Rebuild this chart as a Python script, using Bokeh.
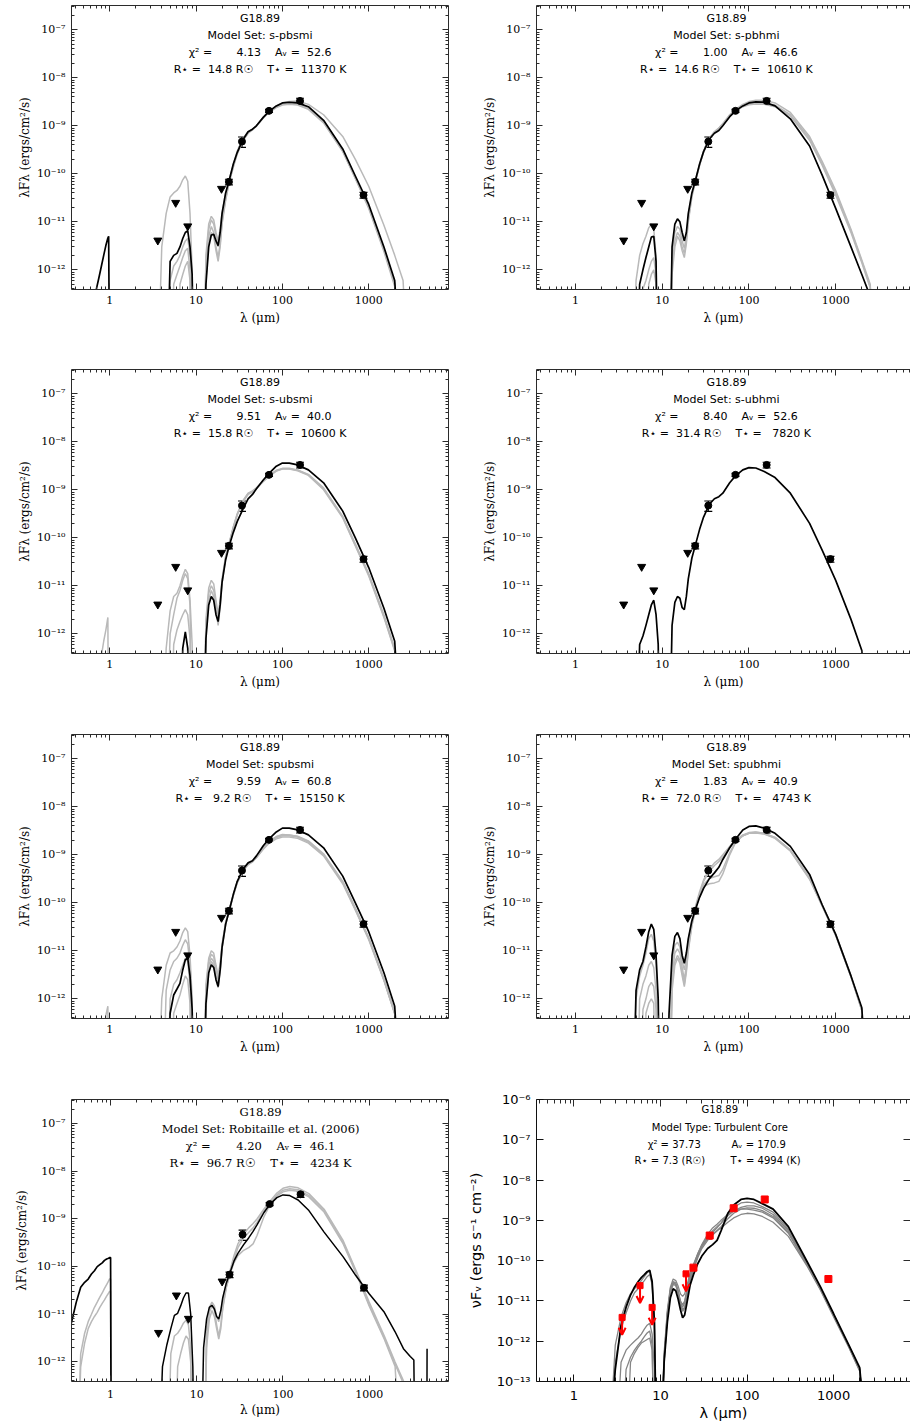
from bokeh.plotting import figure
from bokeh.layouts import gridplot
from bokeh.models import (Range1d, LogAxis, FixedTicker, CustomJSTickFormatter, Label,
                          Whisker, TeeHead, ColumnDataSource, Arrow, OpenHead)
from bokeh.embed import file_html
from bokeh.resources import INLINE

Z = 1e-15  # model flux far below the plotted floor (clipped)

# ---------------- wavelength grids (micron) ----------------
WL_NIR = [0.35, 0.4, 0.45, 0.5, 0.55, 0.6, 0.65, 0.7, 0.75, 0.8, 0.85, 0.9, 0.95, 0.97, 1.0, 1.02]
WL_MIR = [2.5, 3.0, 3.5, 4.0, 4.5, 5.0, 5.5, 6.0, 6.5, 7.0, 7.5, 8.0, 8.5, 9.0, 9.5]
WL_FIR = [10, 11, 12, 13, 14, 15, 16, 17, 18, 19, 20, 22, 24, 27, 30, 35, 40, 45, 50, 60,
          70, 85, 100, 120, 150, 200, 300, 500, 700, 1000, 1500, 2000, 2500, 3000]
WL_TAIL_ROB = [3300, 3450, 4650, 4700]

# ---------------- photometry ----------------
UL_WL = [3.6, 5.8, 8.0, 19.7]
UL_F = [4.1e-12, 2.5e-11, 8.1e-12, 4.9e-11]
DET_WL = [24, 34, 70, 160, 870]
DET_F = [6.8e-11, 4.7e-10, 2.05e-9, 3.3e-9, 3.6e-11]
DET_ERR = [9e-12, 1.15e-10, 1.5e-10, 4.5e-10, 5e-12]

IDL_UL_WL = [3.6, 5.8, 8.0, 19.7]
IDL_UL_F = [3.9e-12, 2.4e-11, 6.9e-12, 4.7e-11]
IDL_DET_WL = [24, 37, 70, 160, 870]
IDL_DET_F = [6.7e-11, 4.2e-10, 2.0e-9, 3.3e-9, 3.5e-11]
IDL_DET_ERR = [6e-12, 8e-11, 1.2e-10, 3e-10, 3e-12]

# ---------------- fit parameters ----------------
SOURCE = "G18.89"
MODEL_SETS = ["s-pbsmi", "s-pbhmi", "s-ubsmi", "s-ubhmi", "spubsmi", "spubhmi", "Robitaille et al. (2006)"]
CHI2 = [4.13, 1.00, 9.51, 8.40, 9.59, 1.83, 4.20]
AV = [52.6, 46.6, 40.0, 52.6, 60.8, 40.9, 46.1]
RSTAR = [14.8, 14.6, 15.8, 31.4, 9.2, 72.0, 96.7]
TSTAR = [11370, 10610, 10600, 7820, 15150, 4743, 4234]
IDL_MODEL = "Turbulent Core"
IDL_CHI2 = 37.73
IDL_AV = 170.9
IDL_RSTAR = 7.3
IDL_TSTAR = 4994

# ---------------- model SEDs: (MIR values on WL_MIR, FIR values on WL_FIR) ----------------
# Panel 1: s-pbsmi
P1_BLACK_NIR = [Z, Z, Z, Z, Z, Z, Z, 4e-13, 7e-13, 1.2e-12, 2e-12, 3.2e-12, 4.6e-12, 5e-12, Z, Z]
P1_BLACK = ([Z, Z, Z, Z, Z, 1.5e-12, 2.0e-12, 2.2e-12, 3.0e-12, 4.5e-12, 6.0e-12, 6.5e-12, 3.0e-12, 8e-13, Z],
            [Z, Z, Z, 5e-13, 3e-12, 5.3e-12, 5.5e-12, 4e-12, 3.2e-12, 6e-12, 1.5e-11, 4e-11, 7e-11, 1.6e-10,
             2.8e-10, 5.2e-10, 7.5e-10, 8.5e-10, 1.0e-9, 1.5e-9, 2.0e-9, 2.6e-9, 3.0e-9, 3.1e-9, 3.0e-9,
             2.5e-9, 1.3e-9, 3.3e-10, 9e-11, 2.3e-11, 3e-12, 6e-13, Z, Z])
P1_GREYS = [
    ([Z, Z, Z, 3e-12, 1.5e-11, 3.3e-11, 4e-11, 4.5e-11, 5.5e-11, 7.5e-11, 9e-11, 7e-11, 1.5e-11, 1e-12, Z],
     [Z, Z, Z, 2e-12, 9e-12, 1.3e-11, 1.1e-11, 6e-12, 4e-12, 7e-12, 1.6e-11, 4e-11, 7e-11, 1.6e-10, 3e-10,
      5.5e-10, 7.5e-10, 8.5e-10, 1.0e-9, 1.5e-9, 2.0e-9, 2.6e-9, 3.0e-9, 3.2e-9, 3.3e-9, 2.8e-9, 1.7e-9,
      6e-10, 2e-10, 5.5e-11, 8.5e-12, 2e-12, 6e-13, Z]),
    ([Z, Z, Z, Z, Z, 6e-13, 1.2e-12, 1.5e-12, 2e-12, 3e-12, 4e-12, 4.5e-12, 2e-12, 5e-13, Z],
     [Z, Z, Z, 1.5e-12, 7e-12, 1.1e-11, 9e-12, 5e-12, 3e-12, 5e-12, 1.3e-11, 3.6e-11, 6.8e-11, 1.5e-10,
      2.8e-10, 5e-10, 7e-10, 8.5e-10, 1e-9, 1.5e-9, 1.95e-9, 2.5e-9, 2.8e-9, 2.9e-9, 2.8e-9, 2.3e-9,
      1.2e-9, 3e-10, 8e-11, 2e-11, 2.6e-12, 5e-13, Z, Z]),
    ([Z, Z, Z, Z, Z, Z, 5e-13, 8e-13, 1.2e-12, 1.8e-12, 2.5e-12, 2.8e-12, 1e-12, Z, Z],
     [Z, Z, Z, 8e-13, 5e-12, 8e-12, 6e-12, 3e-12, 1.8e-12, 3.5e-12, 1e-11, 3e-11, 6.5e-11, 1.4e-10,
      2.6e-10, 5e-10, 7e-10, 8.2e-10, 9.8e-10, 1.45e-9, 1.9e-9, 2.4e-9, 2.7e-9, 2.8e-9, 2.7e-9, 2.2e-9,
      1.15e-9, 2.9e-10, 8e-11, 1.9e-11, 2.4e-12, 4.5e-13, Z, Z]),
    ([Z, Z, Z, Z, Z, Z, Z, Z, 5e-13, 8e-13, 1.2e-12, 1.5e-12, 6e-13, Z, Z],
     [Z, Z, Z, 6e-13, 4e-12, 6e-12, 5e-12, 2.5e-12, 1.5e-12, 3e-12, 9e-12, 2.8e-11, 6.2e-11, 1.4e-10,
      2.7e-10, 5.1e-10, 7.2e-10, 8.4e-10, 1e-9, 1.5e-9, 1.95e-9, 2.5e-9, 2.8e-9, 2.95e-9, 2.85e-9, 2.4e-9,
      1.25e-9, 3.1e-10, 8.5e-11, 2.1e-11, 2.7e-12, 5.2e-13, Z, Z]),
]

# Panel 2: s-pbhmi
P2_BLACK = ([Z, Z, Z, Z, Z, Z, 5e-13, 1e-12, 1.8e-12, 3e-12, 4.8e-12, 5e-12, 1.5e-12, Z, Z],
            [Z, Z, Z, 3e-12, 9e-12, 1.15e-11, 1e-11, 6e-12, 4e-12, 6e-12, 1.5e-11, 4e-11, 7e-11, 1.6e-10,
             2.9e-10, 5.3e-10, 7e-10, 8e-10, 1e-9, 1.55e-9, 2.05e-9, 2.6e-9, 3e-9, 3.15e-9, 3.1e-9, 2.6e-9,
             1.4e-9, 3.8e-10, 9.3e-11, 1.9e-11, 3e-12, 8e-13, 2.8e-13, Z])
P2_GREYS = [
    ([Z, Z, Z, Z, Z, 6e-13, 2e-12, 3.5e-12, 5e-12, 7.5e-12, 9e-12, 7e-12, 2e-12, Z, Z],
     [Z, Z, Z, 2e-12, 6e-12, 8e-12, 7e-12, 4e-12, 2.8e-12, 5e-12, 1.3e-11, 3.8e-11, 7e-11, 1.6e-10, 3e-10,
      5.6e-10, 7.5e-10, 9e-10, 1.1e-9, 1.7e-9, 2.2e-9, 2.8e-9, 3.2e-9, 3.4e-9, 3.4e-9, 3e-9, 1.9e-9,
      6e-10, 1.8e-10, 4.5e-11, 7e-12, 1.6e-12, 5e-13, Z]),
    ([Z, Z, Z, Z, Z, Z, Z, 4e-13, 6e-13, 1e-12, 1.5e-12, 1.8e-12, 8e-13, Z, Z],
     [Z, Z, Z, 1.2e-12, 4e-12, 6e-12, 5e-12, 3e-12, 2.2e-12, 4e-12, 1.1e-11, 3.5e-11, 6.8e-11, 1.5e-10,
      2.9e-10, 5.4e-10, 7.5e-10, 9e-10, 1.1e-9, 1.6e-9, 2.1e-9, 2.6e-9, 2.9e-9, 3e-9, 3e-9, 2.7e-9, 1.7e-9,
      5.5e-10, 1.6e-10, 4e-11, 6.5e-12, 1.5e-12, 4.5e-13, Z]),
    ([Z, Z, Z, Z, Z, Z, Z, Z, Z, 5e-13, 8e-13, 1e-12, 5e-13, Z, Z],
     [Z, Z, Z, 8e-13, 3e-12, 5e-12, 4e-12, 2.5e-12, 1.8e-12, 3.5e-12, 1e-11, 3.3e-11, 6.5e-11, 1.5e-10,
      2.8e-10, 5.2e-10, 7.3e-10, 8.8e-10, 1.05e-9, 1.55e-9, 2e-9, 2.5e-9, 2.75e-9, 2.85e-9, 2.8e-9, 2.5e-9,
      1.6e-9, 5e-10, 1.5e-10, 3.6e-11, 6e-12, 1.4e-12, 4.2e-13, Z]),
]

# Panel 3: s-ubsmi
P3_BLACK = ([Z, Z, Z, Z, Z, Z, Z, Z, Z, 5e-13, 1.1e-12, 5e-13, Z, Z, Z],
            [Z, Z, Z, 8e-13, 4e-12, 6e-12, 5e-12, 2.5e-12, 1.8e-12, 4e-12, 1.2e-11, 3.5e-11, 6.5e-11, 1.3e-10,
             2.2e-10, 4e-10, 6.5e-10, 8e-10, 1.05e-9, 1.6e-9, 2.2e-9, 3.1e-9, 3.6e-9, 3.6e-9, 3.3e-9, 2.6e-9,
             1.4e-9, 3.6e-10, 1e-10, 2.4e-11, 3.4e-12, 7e-13, Z, Z])
P3_GREY_NIR = [Z, Z, Z, Z, Z, Z, Z, Z, Z, 3.5e-13, 7e-13, 1.2e-12, 2.2e-12, Z, Z, Z]
P3_GREYS = [
    ([Z, Z, Z, Z, 5e-13, 3e-12, 6e-12, 7e-12, 1e-11, 1.6e-11, 2.2e-11, 1.8e-11, 5e-12, 6e-13, Z],
     [Z, Z, Z, 2e-12, 9e-12, 1.3e-11, 1.1e-11, 5e-12, 2.5e-12, 5e-12, 1.4e-11, 4.2e-11, 7.5e-11, 1.7e-10,
      3.2e-10, 6e-10, 8.5e-10, 9.5e-10, 1.1e-9, 1.55e-9, 2e-9, 2.55e-9, 2.8e-9, 2.8e-9, 2.6e-9, 2.1e-9,
      1.1e-9, 2.8e-10, 7.5e-11, 1.8e-11, 2.5e-12, 5e-13, Z, Z]),
    ([Z, Z, Z, Z, Z, 1e-12, 2.5e-12, 5.5e-12, 8e-12, 1.3e-11, 1.8e-11, 1.4e-11, 4e-12, Z, Z],
     [Z, Z, Z, 1.5e-12, 7e-12, 1e-11, 8e-12, 4e-12, 2e-12, 4.5e-12, 1.3e-11, 4e-11, 7.2e-11, 1.65e-10,
      3.1e-10, 5.8e-10, 8.3e-10, 9.3e-10, 1.08e-9, 1.5e-9, 1.95e-9, 2.5e-9, 2.75e-9, 2.75e-9, 2.55e-9,
      2.05e-9, 1.05e-9, 2.7e-10, 7e-11, 1.7e-11, 2.3e-12, 4.6e-13, Z, Z]),
    ([Z, Z, Z, Z, Z, Z, 6e-13, 1.2e-12, 1.8e-12, 2.5e-12, 3.2e-12, 2.5e-12, 8e-13, Z, Z],
     [Z, Z, Z, 1e-12, 5e-12, 8e-12, 6e-12, 3e-12, 1.5e-12, 3.5e-12, 1.1e-11, 3.8e-11, 7e-11, 1.6e-10,
      3e-10, 5.6e-10, 8e-10, 9e-10, 1.05e-9, 1.5e-9, 1.9e-9, 2.45e-9, 2.7e-9, 2.7e-9, 2.5e-9, 2e-9, 1e-9,
      2.6e-10, 6.8e-11, 1.6e-11, 2.2e-12, 4.4e-13, Z, Z]),
]

# Panel 4: s-ubhmi
P4_BLACK = ([Z, Z, Z, Z, Z, Z, 6e-13, 9e-13, 1.5e-12, 2.5e-12, 4e-12, 5e-12, 2.5e-12, 6e-13, Z],
            [Z, Z, Z, 1.5e-12, 4.5e-12, 6e-12, 5.5e-12, 3.5e-12, 3.2e-12, 6e-12, 1.4e-11, 3.8e-11, 6.8e-11,
             1.5e-10, 2.7e-10, 5e-10, 6.5e-10, 7.2e-10, 8.5e-10, 1.4e-9, 1.95e-9, 2.6e-9, 2.9e-9, 2.85e-9,
             2.4e-9, 1.8e-9, 8.5e-10, 2e-10, 5.5e-11, 1.3e-11, 2e-12, 4.5e-13, Z, Z])
P4_GREYS = []

# Panel 5: spubsmi
P5_BLACK = ([Z, Z, Z, Z, Z, 5e-13, 1.2e-12, 1.6e-12, 2.1e-12, 4e-12, 6.5e-12, 7e-12, 3e-12, 6e-13, Z],
            [Z, Z, Z, 8e-13, 3.5e-12, 5.1e-12, 4.5e-12, 2.5e-12, 1.8e-12, 4e-12, 1.2e-11, 3.6e-11, 6.5e-11,
             1.5e-10, 2.8e-10, 5e-10, 6.8e-10, 7.5e-10, 9.5e-10, 1.55e-9, 2.15e-9, 3e-9, 3.6e-9, 3.6e-9,
             3.3e-9, 2.6e-9, 1.4e-9, 3.6e-10, 1e-10, 2.5e-11, 3.5e-12, 7e-13, Z, Z])
P5_GREY_NIR = [Z, Z, Z, Z, Z, Z, Z, Z, Z, Z, Z, 4.5e-13, 7e-13, Z, Z, Z]
P5_GREYS = [
    ([Z, Z, Z, 1e-12, 5e-12, 9e-12, 1e-11, 1.2e-11, 1.6e-11, 2.4e-11, 3e-11, 2.5e-11, 8e-12, 1e-12, Z],
     [Z, Z, Z, 2e-12, 7e-12, 1e-11, 9e-12, 5e-12, 3e-12, 5.5e-12, 1.4e-11, 4e-11, 7e-11, 1.5e-10, 2.8e-10,
      4.8e-10, 6.5e-10, 7.5e-10, 9e-10, 1.4e-9, 1.9e-9, 2.4e-9, 2.65e-9, 2.6e-9, 2.4e-9, 1.9e-9, 1e-9,
      2.7e-10, 7.5e-11, 1.8e-11, 2.5e-12, 5e-13, Z, Z]),
    ([Z, Z, Z, Z, 1.5e-12, 4e-12, 6e-12, 7e-12, 9e-12, 1.3e-11, 1.7e-11, 1.4e-11, 5e-12, 7e-13, Z],
     [Z, Z, Z, 1.5e-12, 6e-12, 8.5e-12, 7.5e-12, 4e-12, 2.5e-12, 5e-12, 1.3e-11, 3.8e-11, 6.8e-11, 1.45e-10,
      2.7e-10, 4.7e-10, 6.3e-10, 7.2e-10, 8.7e-10, 1.3e-9, 1.75e-9, 2.15e-9, 2.35e-9, 2.35e-9, 2.2e-9,
      1.75e-9, 9.5e-10, 2.5e-10, 7e-11, 1.7e-11, 2.4e-12, 4.8e-13, Z, Z]),
    ([Z, Z, Z, Z, Z, 1e-12, 2e-12, 2.5e-12, 3.5e-12, 5e-12, 7e-12, 6e-12, 2e-12, Z, Z],
     [Z, Z, Z, 1e-12, 5e-12, 7e-12, 6e-12, 3e-12, 2e-12, 4e-12, 1.2e-11, 3.6e-11, 6.6e-11, 1.45e-10, 2.7e-10,
      4.8e-10, 6.5e-10, 7.4e-10, 9e-10, 1.4e-9, 1.85e-9, 2.35e-9, 2.6e-9, 2.6e-9, 2.45e-9, 1.95e-9, 1.05e-9,
      2.8e-10, 7.8e-11, 1.9e-11, 2.6e-12, 5.2e-13, Z, Z]),
    ([Z, Z, Z, Z, Z, Z, 5e-13, 8e-13, 1.2e-12, 2e-12, 3e-12, 2.5e-12, 8e-13, Z, Z],
     [Z, Z, Z, 6e-13, 4e-12, 6e-12, 5e-12, 2.6e-12, 1.7e-12, 3.6e-12, 1.1e-11, 3.5e-11, 6.5e-11, 1.4e-10,
      2.6e-10, 4.6e-10, 6.2e-10, 7.1e-10, 8.8e-10, 1.35e-9, 1.8e-9, 2.3e-9, 2.5e-9, 2.5e-9, 2.35e-9, 1.85e-9,
      1e-9, 2.65e-10, 7.3e-11, 1.8e-11, 2.5e-12, 5e-13, Z, Z]),
]

# Panel 6: spubhmi
P6_BLACK = ([Z, Z, Z, Z, Z, 1.5e-12, 4e-12, 6e-12, 1.2e-11, 2.5e-11, 3.6e-11, 2.8e-11, 8e-12, 1e-12, Z],
            [Z, Z, 5e-13, 8e-12, 2e-11, 2.4e-11, 1.8e-11, 8e-12, 5.5e-12, 9e-12, 1.8e-11, 4.2e-11, 7e-11,
             1.3e-10, 2e-10, 3.2e-10, 4.2e-10, 5.5e-10, 8e-10, 1.4e-9, 2.1e-9, 3.3e-9, 3.9e-9, 4e-9, 3.6e-9,
             2.8e-9, 1.5e-9, 3.9e-10, 9e-11, 2.2e-11, 3e-12, 6.5e-13, Z, Z])
P6_GREYS = [
    ([Z, Z, Z, Z, Z, 1e-12, 3e-12, 5e-12, 9e-12, 1.8e-11, 2.2e-11, 1.6e-11, 5e-12, 7e-13, Z],
     [Z, Z, Z, 5e-12, 1.3e-11, 1.5e-11, 1.2e-11, 6e-12, 4e-12, 7e-12, 1.6e-11, 4.5e-11, 8e-11, 1.7e-10, 3e-10,
      5e-10, 6.8e-10, 8e-10, 1e-9, 1.5e-9, 2e-9, 2.6e-9, 2.9e-9, 3e-9, 2.8e-9, 2.3e-9, 1.25e-9, 3.3e-10,
      9e-11, 2.2e-11, 3e-12, 6e-13, Z, Z]),
    ([Z, Z, Z, Z, Z, Z, 1e-12, 2e-12, 3e-12, 5e-12, 6e-12, 4.5e-12, 1.5e-12, Z, Z],
     [Z, Z, Z, 3e-12, 9e-12, 1.1e-11, 9e-12, 4.5e-12, 2.5e-12, 5e-12, 1.3e-11, 4e-11, 7.5e-11, 1.5e-10,
      2.2e-10, 2.5e-10, 2.6e-10, 2.8e-10, 4e-10, 1e-9, 1.8e-9, 2.5e-9, 2.85e-9, 2.95e-9, 2.8e-9, 2.3e-9,
      1.25e-9, 3.3e-10, 8.8e-11, 2.15e-11, 2.9e-12, 5.8e-13, Z, Z]),
    ([Z, Z, Z, Z, Z, Z, Z, 6e-13, 1e-12, 1.8e-12, 2.2e-12, 1.8e-12, 6e-13, Z, Z],
     [Z, Z, Z, 2e-12, 6e-12, 8e-12, 6.5e-12, 3.5e-12, 2e-12, 4e-12, 1.1e-11, 3.5e-11, 7e-11, 1.5e-10, 2.8e-10,
      4.5e-10, 6e-10, 7.2e-10, 9e-10, 1.4e-9, 1.9e-9, 2.5e-9, 2.8e-9, 2.85e-9, 2.7e-9, 2.2e-9, 1.2e-9,
      3.1e-10, 8.5e-11, 2.1e-11, 2.9e-12, 5.8e-13, Z, Z]),
    ([Z, Z, Z, Z, Z, Z, Z, Z, 5e-13, 8e-13, 1e-12, 8e-13, Z, Z, Z],
     [Z, Z, Z, 1.5e-12, 5e-12, 7e-12, 5.5e-12, 3e-12, 1.8e-12, 3.6e-12, 1e-11, 3.3e-11, 6.6e-11, 1.4e-10,
      2.4e-10, 3.2e-10, 3.5e-10, 3.7e-10, 5e-10, 1.1e-9, 1.85e-9, 2.5e-9, 2.8e-9, 2.9e-9, 2.75e-9, 2.25e-9,
      1.22e-9, 3.2e-10, 8.6e-11, 2.1e-11, 2.9e-12, 5.8e-13, Z, Z]),
]

# Panel 7: Robitaille et al. (2006)
P7_BLACK_NIR = [6.5e-12, 1.8e-11, 3.7e-11, 4.7e-11, 5.5e-11, 7e-11, 8.2e-11, 1e-10, 1.1e-10, 1.2e-10,
                1.35e-10, 1.45e-10, 1.5e-10, 1.55e-10, 1.55e-10, Z]
P7_GREYS_NIR = [
    [Z, Z, 1.5e-12, 4e-12, 7e-12, 1e-11, 1.4e-11, 1.8e-11, 2.3e-11, 2.8e-11, 3.5e-11, 4.2e-11, 5e-11, 5.5e-11, 5.5e-11, Z],
    [Z, Z, 8e-13, 2.5e-12, 5e-12, 7e-12, 9e-12, 1.1e-11, 1.4e-11, 1.7e-11, 2e-11, 2.4e-11, 2.8e-11, 3e-11, 3e-11, Z],
]
P7_BLACK = ([Z, Z, Z, 8e-13, 2.3e-12, 5e-12, 9.5e-12, 1.05e-11, 1.5e-11, 2.2e-11, 2.8e-11, 2.8e-11, 1e-11, 8e-13, Z],
            [Z, Z, 2e-12, 8e-12, 1.4e-11, 1.55e-11, 1.3e-11, 9e-12, 8e-12, 1.2e-11, 2.2e-11, 4.5e-11, 7e-11,
             1.3e-10, 1.9e-10, 2.9e-10, 4e-10, 5.5e-10, 7.5e-10, 1.35e-9, 2e-9, 2.8e-9, 3.2e-9, 3.1e-9, 2.5e-9,
             1.5e-9, 5.3e-10, 1.6e-10, 6.5e-11, 2.7e-11, 1.1e-11, 4.3e-12, 1.9e-12, 1.3e-12])
P7_BLACK_TAIL = [1.1e-12, Z, Z, 1.9e-12]
P7_GREYS = [
    ([Z, Z, Z, Z, Z, 1.5e-12, 3.5e-12, 4e-12, 5e-12, 6.5e-12, 7.5e-12, 6e-12, 2e-12, Z, Z],
     [Z, Z, Z, 5e-12, 1.4e-11, 1.8e-11, 1.5e-11, 9e-12, 7e-12, 1.1e-11, 2e-11, 4.5e-11, 7.5e-11, 1.7e-10, 3e-10,
      4.8e-10, 6.5e-10, 8e-10, 1e-9, 1.6e-9, 2.3e-9, 3.5e-9, 4.4e-9, 4.8e-9, 4.5e-9, 3.4e-9, 1.6e-9, 3.5e-10,
      8.5e-11, 1.8e-11, 3.5e-12, 1e-12, 4e-13, Z]),
    ([Z, Z, Z, Z, Z, Z, Z, 8e-13, 1.5e-12, 2.5e-12, 3.5e-12, 3e-12, 1e-12, Z, Z],
     [Z, Z, Z, 3e-12, 1.1e-11, 1.5e-11, 1.2e-11, 6e-12, 3.5e-12, 6e-12, 1.4e-11, 3.8e-11, 6.5e-11, 1.2e-10,
      1.7e-10, 2.2e-10, 2.5e-10, 3e-10, 4.5e-10, 1.1e-9, 1.9e-9, 3e-9, 3.7e-9, 4e-9, 3.8e-9, 2.9e-9, 1.4e-9,
      3e-10, 7.5e-11, 1.5e-11, 3e-12, 8e-13, Z, Z]),
    ([Z, Z, Z, Z, Z, Z, Z, Z, Z, Z, Z, Z, Z, Z, Z],
     [Z, Z, Z, 2e-12, 8e-12, 1.2e-11, 9e-12, 5e-12, 3e-12, 5e-12, 1.3e-11, 3.6e-11, 6.5e-11, 1.4e-10, 2.5e-10,
      4e-10, 5.2e-10, 6.5e-10, 8.5e-10, 1.45e-9, 2.1e-9, 3.2e-9, 4e-9, 4.3e-9, 4.1e-9, 3.1e-9, 1.5e-9,
      3.2e-10, 8e-11, 1.6e-11, 3.2e-12, 9e-13, 3.5e-13, Z]),
]

# Panel 8: turbulent core (IDL style)
P8_BLACK = ([Z, 2e-13, 2.5e-12, 7e-12, 1.4e-11, 2.2e-11, 3e-11, 3.8e-11, 4.5e-11, 5.3e-11, 5.8e-11, 3e-11, 3e-12, Z, Z],
            [Z, 3e-13, 3e-12, 1.2e-11, 2e-11, 1.8e-11, 1.1e-11, 6e-12, 3.8e-12, 4.5e-12, 8e-12, 2.5e-11, 4.5e-11,
             8.5e-11, 1.3e-10, 2e-10, 2.5e-10, 3.2e-10, 5.5e-10, 1.5e-9, 2.4e-9, 3.3e-9, 3.5e-9, 3.3e-9, 2.6e-9,
             1.9e-9, 7e-10, 9e-11, 2.3e-11, 4.8e-12, 8e-13, 2.2e-13, Z, Z])
P8_GREYS = [
    ([Z, 8e-13, 4e-12, 9e-12, 1.5e-11, 2e-11, 2.5e-11, 3.2e-11, 4e-11, 5e-11, 5.5e-11, 3e-11, 3e-12, Z, Z],
     [Z, 5e-13, 6e-12, 2.2e-11, 3.5e-11, 3.2e-11, 2.3e-11, 1.5e-11, 1.3e-11, 1.5e-11, 2.2e-11, 5e-11, 8e-11,
      1.5e-10, 2.4e-10, 4e-10, 5.5e-10, 7e-10, 8.5e-10, 1.3e-9, 1.7e-9, 2.1e-9, 2.3e-9, 2.3e-9, 2e-9, 1.4e-9,
      5.5e-10, 8e-11, 2.1e-11, 4.5e-12, 7.5e-13, 2e-13, Z, Z]),
    ([Z, Z, 3e-13, 6e-13, 8e-13, 1e-12, 1.2e-12, 1.5e-12, 2e-12, 2.5e-12, 2.8e-12, 1.5e-12, 2e-13, Z, Z],
     [Z, 4e-13, 5e-12, 2e-11, 3e-11, 2.8e-11, 1.8e-11, 9e-12, 6e-12, 7e-12, 1.2e-11, 3.5e-11, 6.5e-11, 1.3e-10,
      2.2e-10, 3.5e-10, 4.5e-10, 5.5e-10, 6.5e-10, 9e-10, 1.15e-9, 1.4e-9, 1.5e-9, 1.45e-9, 1.25e-9, 9e-10,
      4e-10, 7e-11, 1.9e-11, 4e-12, 7e-13, 1.8e-13, Z, Z]),
    ([Z, Z, Z, 2e-13, 4e-13, 6e-13, 8e-13, 1e-12, 1.3e-12, 1.6e-12, 1.8e-12, 8e-13, Z, Z, Z],
     [Z, 3e-13, 4e-12, 1.6e-11, 2.6e-11, 2.4e-11, 1.5e-11, 8e-12, 5.5e-12, 6.5e-12, 1.1e-11, 3.2e-11, 6e-11,
      1.2e-10, 2e-10, 3.2e-10, 4.3e-10, 5.5e-10, 7e-10, 1.1e-9, 1.5e-9, 1.9e-9, 2.05e-9, 2e-9, 1.75e-9, 1.25e-9,
      5e-10, 7.5e-11, 2e-11, 4.3e-12, 7.2e-13, 1.9e-13, Z, Z]),
    ([Z, 3e-13, 2e-12, 5e-12, 1e-11, 1.6e-11, 2e-11, 2.6e-11, 3.2e-11, 4e-11, 4.5e-11, 2.5e-11, 2e-12, Z, Z],
     [Z, 4e-13, 5e-12, 1.8e-11, 2.8e-11, 2.6e-11, 1.6e-11, 9e-12, 7e-12, 9e-12, 1.6e-11, 4e-11, 7e-11, 1.4e-10,
      2.3e-10, 3.8e-10, 5e-10, 6.5e-10, 8.5e-10, 1.5e-9, 2.1e-9, 2.7e-9, 2.85e-9, 2.7e-9, 2.2e-9, 1.6e-9,
      6e-10, 8.5e-11, 2.2e-11, 4.6e-12, 7.8e-13, 2.1e-13, Z, Z]),
    ([Z, Z, Z, Z, 3e-13, 5e-13, 7e-13, 9e-13, 1e-12, 1.1e-12, 1.2e-12, 6e-13, Z, Z, Z],
     [Z, 3e-13, 4.5e-12, 1.8e-11, 2.8e-11, 2.6e-11, 1.7e-11, 1e-11, 8e-12, 1e-11, 1.7e-11, 4.5e-11, 7.5e-11,
      1.5e-10, 2.5e-10, 4.5e-10, 6.5e-10, 8e-10, 1e-9, 1.4e-9, 1.75e-9, 1.9e-9, 1.9e-9, 1.8e-9, 1.6e-9,
      1.15e-9, 4.8e-10, 7.5e-11, 2e-11, 4.4e-12, 7.4e-13, 1.9e-13, Z, Z]),
]

# ---------------- styling ----------------
GREY = "#b9b9b9"
IDL_GREY = "#858585"
FRAME = "#2b2b2b"
NB = "\u00a0"

XR_L = (0.36, 8400.0)
XR_L4 = (0.352, 8330.0)
XR_R = (0.356, 7280.0)
XR_R4 = (0.369, 7730.0)
YR = (3.89e-13, 3.21e-7)
YR_IDL = (1e-13, 1e-6)
Y_TOP_LOG = -6.4935
PX_PER_DEC = 48.0
TEXT_OFFSETS = [13, 30, 47, 64]
X_MID = 55.0

X_MAJOR = [1, 10, 100, 1000]
X_MINOR = [m * 10.0 ** k for k in range(-1, 4) for m in range(2, 10)]
Y_MAJOR = [10.0 ** k for k in range(-13, -5)]
Y_MINOR = [m * 10.0 ** k for k in range(-14, -6) for m in range(2, 10)]

SUP_CODE = """
const m = {"-": "\u207b", "0": "\u2070", "1": "\u00b9", "2": "\u00b2", "3": "\u00b3",
           "4": "\u2074", "5": "\u2075", "6": "\u2076", "7": "\u2077", "8": "\u2078", "9": "\u2079"};
const e = Math.round(Math.log10(tick));
return "10" + String(e).split("").map(c => m[c]).join("");
"""
INT_CODE = "return Math.round(tick).toString();"
BLANK_CODE = "return '';"


def check(arr, n, name):
    if len(arr) != n:
        raise ValueError(f"{name}: expected {n} values, got {len(arr)}")


def style_ticks(ax, major, minor, color=FRAME):
    ax.major_tick_in = major
    ax.major_tick_out = 0
    ax.minor_tick_in = minor
    ax.minor_tick_out = 0
    ax.axis_line_color = color
    ax.major_tick_line_color = color
    ax.minor_tick_line_color = color
    ax.axis_line_width = 1
    ax.major_tick_line_width = 1
    ax.minor_tick_line_width = 1


def blank_axis(p, place, ticker, major, minor, line=True):
    ax = LogAxis(ticker=ticker, formatter=CustomJSTickFormatter(code=BLANK_CODE),
                 major_label_text_font_size="0px", major_label_standoff=0)
    style_ticks(ax, major, minor)
    if not line:
        ax.axis_line_color = None
    p.add_layout(ax, place)


def base_figure(w, h, mb, xr, yr):
    p = figure(width=w, height=h, x_axis_type="log", y_axis_type="log",
               x_range=Range1d(*xr), y_range=Range1d(*yr),
               output_backend="svg", toolbar_location=None,
               min_border_left=mb[0], min_border_right=mb[1],
               min_border_top=mb[2], min_border_bottom=mb[3])
    p.xgrid.visible = False
    p.ygrid.visible = False
    p.outline_line_color = None
    p.background_fill_color = "white"
    p.border_fill_color = "white"
    return p


def ytext(off):
    return 10 ** (Y_TOP_LOG - off / PX_PER_DEC)


def sed_panel(i, w, h, mb, xr, yr, right_col, black, greys, black_nir=None, greys_nir=(),
              black_tail=None, serif_text=False, xstand=(6, 4), ylabel_standoff=2):
    p = base_figure(w, h, mb, xr, yr)
    xt = FixedTicker(ticks=X_MAJOR, minor_ticks=X_MINOR)
    yt = FixedTicker(ticks=Y_MAJOR, minor_ticks=Y_MINOR)

    xa = p.xaxis[0]
    xa.ticker = xt
    xa.formatter = CustomJSTickFormatter(code=INT_CODE)
    xa.axis_label = "λ (μm)"
    ya = p.yaxis[0]
    ya.ticker = yt
    ya.formatter = CustomJSTickFormatter(code=SUP_CODE)
    ya.axis_label = "λFλ (ergs/cm²/s)"
    for ax in (xa, ya):
        style_ticks(ax, 6, 3)
        ax.major_label_text_font = "DejaVu Serif"
        ax.major_label_text_font_size = "11px"
        ax.major_label_text_color = "black"
        ax.axis_label_text_font = "DejaVu Serif"
        ax.axis_label_text_font_size = "12px"
        ax.axis_label_text_font_style = "normal"
        ax.axis_label_text_color = "black"
    xa.major_label_standoff = xstand[0]
    xa.axis_label_standoff = xstand[1]
    ya.major_label_standoff = 6
    ya.axis_label_standoff = ylabel_standoff

    blank_axis(p, "above", xt, 6, 3)
    if not right_col:
        blank_axis(p, "right", yt, 6, 3)

    # model curves
    wl = WL_MIR + WL_FIR
    for k, g in enumerate(greys_nir):
        check(g, len(WL_NIR), f"panel{i} grey nir {k}")
        p.line(WL_NIR, g, line_color=GREY, line_width=1.5)
    for k, (mir, fir) in enumerate(greys):
        check(mir, len(WL_MIR), f"panel{i} grey mir {k}")
        check(fir, len(WL_FIR), f"panel{i} grey fir {k}")
        p.line(wl, mir + fir, line_color=GREY, line_width=1.5)
    if black_nir is not None:
        check(black_nir, len(WL_NIR), f"panel{i} black nir")
        p.line(WL_NIR, black_nir, line_color="black", line_width=1.7)
    mir, fir = black
    check(mir, len(WL_MIR), f"panel{i} black mir")
    check(fir, len(WL_FIR), f"panel{i} black fir")
    if black_tail is not None:
        p.line(wl + WL_TAIL_ROB, mir + fir + black_tail, line_color="black", line_width=1.5)
    else:
        p.line(wl, mir + fir, line_color="black", line_width=1.7)

    # photometry
    src = ColumnDataSource(dict(x=DET_WL, y=DET_F,
                                lo=[f - e for f, e in zip(DET_F, DET_ERR)],
                                hi=[f + e for f, e in zip(DET_F, DET_ERR)]))
    p.add_layout(Whisker(source=src, base="x", upper="hi", lower="lo", line_color="black", line_width=1.2,
                         upper_head=TeeHead(size=8, line_color="black", line_width=1.2),
                         lower_head=TeeHead(size=8, line_color="black", line_width=1.2)))
    p.scatter("x", "y", source=src, marker="circle", size=7, color="black")
    p.scatter(UL_WL, UL_F, marker="inverted_triangle", size=8, color="black")

    # annotation
    font = "DejaVu Serif" if serif_text else "DejaVu Sans"
    size = "11.5px" if serif_text else "11px"
    lines = [SOURCE,
             f"Model Set: {MODEL_SETS[i]}",
             f"χ² = {CHI2[i]:10.2f}    Aᵥ = {AV[i]:5.1f}".replace(" ", NB),
             f"R⋆ = {RSTAR[i]:5.1f} R☉    T⋆ = {TSTAR[i]:6d} K".replace(" ", NB)]
    for txt, off in zip(lines, TEXT_OFFSETS):
        p.add_layout(Label(x=X_MID, y=ytext(off), text=txt,
                           text_font=font, text_font_size=size, text_align="center",
                           text_baseline="middle", text_color="black"))
    return p


# layout (page origin at 0,0): left figures 464 wide, right figures 446 wide
p1 = sed_panel(0, 464, 360, (71, 13, 5, 71), XR_L, YR, False, P1_BLACK, P1_GREYS, black_nir=P1_BLACK_NIR)
p2 = sed_panel(1, 446, 360, (71, 0, 5, 71), XR_R, YR, True, P2_BLACK, P2_GREYS)
p3 = sed_panel(2, 464, 365, (71, 13, 9, 72), XR_L, YR, False, P3_BLACK, P3_GREYS, greys_nir=[P3_GREY_NIR])
p4 = sed_panel(3, 446, 365, (71, 0, 9, 72), XR_R, YR, True, P4_BLACK, P4_GREYS)
p5 = sed_panel(4, 464, 365, (71, 13, 9, 72), XR_L, YR, False, P5_BLACK, P5_GREYS, greys_nir=[P5_GREY_NIR])
p6 = sed_panel(5, 446, 365, (71, 0, 9, 72), XR_R, YR, True, P6_BLACK, P6_GREYS)
p7 = sed_panel(6, 464, 336, (69, 16, 9, 43), XR_L4, YR, False, P7_BLACK, P7_GREYS,
               black_nir=P7_BLACK_NIR, greys_nir=P7_GREYS_NIR, black_tail=P7_BLACK_TAIL,
               serif_text=True, xstand=(8, 2), ylabel_standoff=5)

# ---------------- IDL-style panel ----------------
p8 = base_figure(446, 336, (70, 0, 6, 45), XR_R4, YR_IDL)
xt8 = FixedTicker(ticks=X_MAJOR, minor_ticks=X_MINOR)
yt8 = FixedTicker(ticks=Y_MAJOR, minor_ticks=[])
xa = p8.xaxis[0]
xa.ticker = xt8
xa.formatter = CustomJSTickFormatter(code=INT_CODE)
xa.axis_label = "λ (μm)"
ya = p8.yaxis[0]
ya.ticker = yt8
ya.formatter = CustomJSTickFormatter(code=SUP_CODE)
ya.axis_label = "νFᵥ (ergs s⁻¹ cm⁻²)"
for ax in (xa, ya):
    style_ticks(ax, 7, 4, "#111111")
    ax.major_label_text_font = "DejaVu Sans"
    ax.major_label_text_font_size = "13px"
    ax.major_label_text_color = "black"
    ax.axis_label_text_font = "DejaVu Sans"
    ax.axis_label_text_font_size = "14.5px"
    ax.axis_label_text_font_style = "normal"
    ax.axis_label_text_color = "black"
xa.major_label_standoff = 9
xa.axis_label_standoff = 2
ya.major_label_standoff = 6
ya.axis_label_standoff = 10
blank_axis(p8, "above", xt8, 7, 4)
blank_axis(p8, "right", yt8, 7, 0, line=False)

wl = WL_MIR + WL_FIR
for k, (mir, fir) in enumerate(P8_GREYS):
    check(mir, len(WL_MIR), f"idl grey mir {k}")
    check(fir, len(WL_FIR), f"idl grey fir {k}")
    p8.line(wl, mir + fir, line_color=IDL_GREY, line_width=1.3)
check(P8_BLACK[0], len(WL_MIR), "idl black mir")
check(P8_BLACK[1], len(WL_FIR), "idl black fir")
p8.line(wl, P8_BLACK[0] + P8_BLACK[1], line_color="black", line_width=1.8)

src8 = ColumnDataSource(dict(x=IDL_DET_WL, y=IDL_DET_F,
                             lo=[f - e for f, e in zip(IDL_DET_F, IDL_DET_ERR)],
                             hi=[f + e for f, e in zip(IDL_DET_F, IDL_DET_ERR)]))
p8.add_layout(Whisker(source=src8, base="x", upper="hi", lower="lo", line_color="red", line_width=1.2,
                      upper_head=TeeHead(size=5, line_color="red", line_width=1.2),
                      lower_head=TeeHead(size=5, line_color="red", line_width=1.2)))
p8.scatter("x", "y", source=src8, marker="square", size=7, color="red")
ARROW_FACTOR = 2.7
for wlu, fu in zip(IDL_UL_WL, IDL_UL_F):
    p8.add_layout(Arrow(x_start=wlu, y_start=fu, x_end=wlu, y_end=fu / ARROW_FACTOR,
                        line_color="red", line_width=2,
                        end=OpenHead(size=7, line_color="red", line_width=2)))
p8.scatter(IDL_UL_WL, IDL_UL_F, marker="square", size=6, color="red")

IDL_TOP_LOG = -6.0
IDL_PX_PER_DEC = 40.7


def ytext8(off):
    return 10 ** (IDL_TOP_LOG - off / IDL_PX_PER_DEC)


idl_labels = [
    (48.4, 10, SOURCE, "center"),
    (48.4, 28, f"Model Type: {IDL_MODEL}", "center"),
    (7.1, 45, f"χ² = {IDL_CHI2:.2f}", "left"),
    (66.0, 45, f"Aᵥ = {IDL_AV:.1f}", "left"),
    (5.0, 62, f"R⋆ = {IDL_RSTAR:.1f} (R☉)", "left"),
    (64.3, 62, f"T⋆ = {IDL_TSTAR:d} (K)", "left"),
]
for x, off, txt, align in idl_labels:
    p8.add_layout(Label(x=x, y=ytext8(off), text=txt, text_font="DejaVu Sans", text_font_size="10px",
                        text_align=align, text_baseline="middle", text_color="black"))

grid = gridplot([[p1, p2], [p3, p4], [p5, p6], [p7, p8]], toolbar_location=None)

open("out.html", "w").write(file_html(grid, INLINE))
